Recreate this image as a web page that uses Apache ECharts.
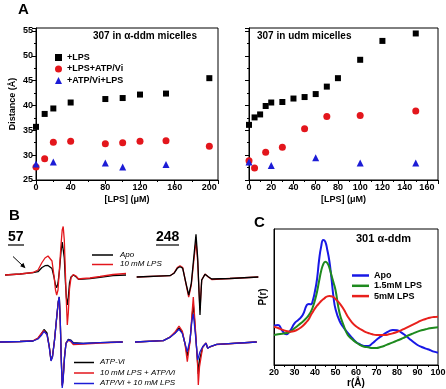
<!DOCTYPE html>
<html>
<head>
<meta charset="utf-8">
<script src="https://cdn.jsdelivr.net/npm/echarts@6/dist/echarts.min.js"></script>
<style>
html, body { margin: 0; padding: 0; background: #fff; }
#main { width: 446px; height: 389px; }
</style>
</head>
<body>
<div id="main"></div>
<script>
var FONT = "'Liberation Sans', Arial, sans-serif";

// A: 307 in alpha-ddm micelles, distance (A) vs [LPS] (uM)
var ddmLpsX = [0, 10, 20, 40, 80, 100, 120, 150, 200];
var ddmLpsY = [35.7, 38.3, 39.4, 40.6, 41.3, 41.5, 42.2, 42.4, 45.5];
var ddmAtpX = [0, 10, 20, 40, 80, 100, 120, 150, 200];
var ddmAtpY = [27.6, 29.3, 32.6, 32.8, 32.3, 32.5, 32.8, 32.9, 31.8];
var ddmRevX = [0, 20, 80, 100, 150];
var ddmRevY = [28.2, 28.6, 28.4, 27.6, 28.1];

// A: 307 in udm micelles
var udmLpsX = [0, 5, 10, 15, 20, 30, 40, 50, 60, 70, 80, 100, 120, 150];
var udmLpsY = [36.1, 37.6, 38.2, 39.9, 40.6, 40.7, 41.4, 41.7, 42.3, 43.8, 45.5, 49.2, 53.0, 54.5];
var udmAtpX = [0, 5, 15, 30, 50, 70, 100, 150];
var udmAtpY = [28.9, 27.4, 30.6, 31.6, 35.3, 37.8, 38.0, 38.9];
var udmRevX = [0, 20, 60, 100, 150];
var udmRevY = [28.6, 27.9, 29.5, 28.4, 28.4];

// B: EPR spectra, [field, signal]
var s57TopApo = [[5,0],[20,1],[33,2.3],[38,3.3],[42,7.5],[45,9.3],[48,9.5],[50,9.3],[52,6.5],[54,-2],[55.5,-10],[56.7,-12.7],[58,-8],[59.5,5],[61,23],[62.2,33],[63.2,34],[64.3,17],[65.3,-5],[66.3,-22],[67.3,-30],[68.3,-22],[69.5,-8],[71,-2],[73.3,0],[76,-1.7],[78.5,-4.3],[83,-4],[90,-3.5],[100,-2.3],[113,-0.7],[126,0]];
var s57TopLps = [[5,0],[20,1],[33,2.5],[38,5],[42,12.5],[45,17],[48,19],[50,18.5],[52,14],[54,-1],[55.5,-15],[56.7,-20],[58,-15],[59.5,7],[61,30],[62.2,45],[63.2,48.5],[64.3,35],[65.3,5],[66.3,-25],[67.3,-50],[68.3,-38],[69.5,-14],[71,-3],[73.3,0.5],[76,-1],[78.5,-4],[83,-3.5],[90,-3],[100,-1.5],[113,0.5],[126,1.5]];
var s57BotAtp = [[0,0],[20,0.5],[33,1],[38,3.7],[41.7,8.7],[44,12.5],[45.5,12.7],[47,9],[49.3,-4.7],[51,-18],[52.5,-14],[54.5,2],[56.7,25],[58.2,40],[59.3,45],[60.3,20],[61.2,-15],[62.2,-43],[63,-38],[64.5,-15],[66,-1.3],[68.3,2.7],[70.7,2],[73.3,-0.7],[83.3,-1.3],[100,-0.7],[122.7,0]];
var s57BotLpsAtp = [[0,0],[20,0.5],[33,1.3],[38,4],[41.7,9],[44,11.5],[45.5,11],[47,7],[49.3,-5],[51,-18.5],[52.5,-14.5],[54.5,1.5],[56.7,24],[58.2,39],[59.3,44],[60.3,19],[61.2,-15],[62.2,-44],[63,-39],[64.5,-15],[66,-1],[68.3,1.5],[70.7,0.5],[73.3,-2.5],[83.3,-2],[100,-1],[122.7,0]];
var s57BotAtpLps = [[0,0],[20,0.5],[33,1],[38,3],[41.7,7],[44,10.5],[45.5,10.7],[47,7.5],[49.3,-5.5],[51,-19],[52.5,-15],[54.5,1.5],[56.7,25],[58.2,40],[59.3,45],[60.3,20],[61.2,-15],[62.2,-46],[63,-40],[64.5,-16],[66,-1.5],[68.3,2],[70.7,1.5],[73.3,-1.3],[83.3,-1.5],[100,-0.7],[122.7,0]];
var s248TopApo = [[6.7,0],[40,1.3],[44,3.7],[47.3,8.7],[50,10.3],[52.7,8.7],[56,-6.3],[58.7,-18],[61.3,-6.3],[64,22],[66,42.7],[67.7,18.7],[69,-14.7],[70,-38],[70.8,-20],[71.7,-3],[75,2.7],[78.3,0.3],[81.7,-2],[100,-1.5],[128.3,0]];
var s248TopLps = [[6.7,0],[40,1.3],[44,4],[47.3,9.5],[50,11.3],[52.7,9.5],[56,-7],[58.7,-20],[61.3,-8],[64,18],[66,36],[67.7,15],[69,-14],[70,-33],[70.8,-18],[71.7,-3],[75,3],[78.3,0],[81.7,-2.5],[100,-1.5],[128.3,0]];
var s248BotAtp = [[5,0],[33.3,1.3],[40,4.8],[45,9],[49,14],[52.3,9.5],[55,-1.5],[57.3,-14],[60,1],[62,25],[63.3,38],[65.3,12],[67.7,-22],[68.3,-32],[69.5,-18],[72.7,-5],[76,-1.2],[77.7,-6.2],[80,-4.8],[86.7,-2.4],[126.7,0]];
var s248BotLpsAtp = [[5,0],[33.3,1.3],[40,5],[45,10],[49,16],[52.3,11],[55,-2],[57.3,-19.7],[60,0],[62,28],[63.3,45],[65.3,15],[67.7,-25],[68.3,-43],[69.5,-25],[72.7,-5],[76,-1],[77.7,-6],[80,-5],[86.7,-2.5],[126.7,0]];
var s248BotAtpLps = [[5,0],[33.3,1.3],[40,4.7],[45,8.7],[49,12.7],[52.3,8.7],[55,-1.3],[57.3,-9.7],[60,2],[62,22],[63.3,28],[65.3,8.7],[67.7,-18],[68.5,-16],[70,-9.7],[72.7,-4.7],[76,-1.3],[77.7,-6.3],[80,-4.7],[86.7,-2.3],[126.7,0]];

// C: 301 alpha-ddm, P(r) vs r (A)
var rValues = [20,22,24,26,28,30,32,34,36,37,38,39,40,41,42,43,44,45,46,47,48,49,50,52,54,56,58,60,62,64,66,68,70,72,74,76,78,80,82,84,86,88,90,92,94,96,98,100];
var prApo = [118,120,103,92,104,125,136,150,180,183,182,195,222,258,315,355,375,370,345,312,262,205,168,132,112,96,82,69,62,57,57,65,76,85,94,101,105,104,98,89,79,69,60,54,49,45,40,37];
var prLps15 = [90,92,94,96,100,110,120,130,142,150,160,175,195,220,252,282,302,310,306,292,270,248,225,155,118,90,78,68,60,55,53,51,51,54,58,63,68,73,78,84,90,95,100,104,107,110,112,113];
var prLps5 = [115,111,106,102,100,102,108,117,130,138,150,160,170,178,185,192,197,202,206,207,206,204,198,185,167,145,128,116,108,101,96,92,90,90,90,92,95,99,104,110,116,122,128,134,138,142,144,145];

var RED = '#e3161c', BLUE = '#1c1cd6', BLACK = '#000';

function pairs(xs, ys) {
    return xs.map(function (x, i) { return [x, ys[i]]; });
}

var lbl = { color: '#000', fontSize: 9, fontWeight: 'bold', fontFamily: FONT, margin: 3 };
var nameTxt = { color: '#000', fontSize: 9, fontWeight: 'bold', fontFamily: FONT };
var blackLine = { show: true, lineStyle: { color: '#000', width: 1 } };
var tick = { show: true, length: 4, lineStyle: { color: '#000' } };
var minor = { show: true, splitNumber: 2, length: 2, lineStyle: { color: '#000' } };

function every(n) {
    return function (v) { return v % n === 0 ? v : ''; };
}

function hiddenAxis(i, min, max) {
    return { type: 'value', gridIndex: i, min: min, max: max, show: false };
}

function spectrum(name, data, idx, color) {
    return {
        name: name, type: 'line', xAxisIndex: idx, yAxisIndex: idx, data: data,
        showSymbol: false, lineStyle: { color: color, width: 1.3 }, itemStyle: { color: color },
        silent: true
    };
}

function scatter(name, data, idx, symbol, size, color) {
    return {
        name: name, type: 'scatter', xAxisIndex: idx, yAxisIndex: idx, data: data,
        symbol: symbol, symbolSize: size, itemStyle: { color: color, opacity: 1 }
    };
}

function prLine(name, vals, color) {
    return {
        name: name, type: 'line', xAxisIndex: 2, yAxisIndex: 2, data: pairs(rValues, vals),
        showSymbol: false, smooth: true, lineStyle: { color: color, width: 2 }, itemStyle: { color: color }
    };
}

function grid(l, t, w, h, box) {
    var g = { left: l, top: t, width: w, height: h, outerBoundsMode: 'none', containLabel: false };
    if (box) {
        g.show = true;
        g.borderColor = '#000';
        g.borderWidth = 1;
    }
    return g;
}

var myChart = echarts.init(document.getElementById('main'), null, { renderer: 'canvas' });

var option = {
    animation: false,
    backgroundColor: '#fff',
    textStyle: { fontFamily: FONT },
    title: [
        { text: '307 in α-ddm micelles', left: 93, top: 31, padding: 0,
          textStyle: { fontSize: 10, fontWeight: 'bold', color: '#000', fontFamily: FONT } },
        { text: '307 in udm micelles', left: 257, top: 31, padding: 0,
          textStyle: { fontSize: 10, fontWeight: 'bold', color: '#000', fontFamily: FONT } },
        { text: '301 α-ddm', left: 356, top: 233, padding: 0,
          textStyle: { fontSize: 11, fontWeight: 'bold', color: '#000', fontFamily: FONT } }
    ],
    legend: [
        { data: ['+LPS', '+LPS+ATP/Vi', '+ATP/Vi+LPS'], orient: 'vertical', left: 50, top: 48,
          itemWidth: 7, itemHeight: 7, itemGap: 2.5,
          textStyle: { fontSize: 9, fontWeight: 'bold', color: '#000', fontFamily: FONT } },
        { data: ['Apo', '1.5mM LPS', '5mM LPS'], orient: 'vertical', left: 347, top: 266,
          icon: 'rect', itemWidth: 17, itemHeight: 2.5, itemGap: 1.3,
          textStyle: { fontSize: 9, fontWeight: 'bold', color: '#000', fontFamily: FONT } }
    ],
    grid: [
        grid(36, 28, 182, 152, true),
        grid(249, 28, 189, 152, true),
        grid(274, 229, 164, 136, true),
        grid(0, 205, 130, 140),
        grid(0, 272, 130, 140),
        grid(130, 207, 130, 140),
        grid(130, 272, 130, 140)
    ],
    xAxis: [
        { type: 'value', gridIndex: 0, min: 0, max: 210, interval: 40, axisLine: blackLine,
          axisTick: tick, minorTick: minor, splitLine: { show: false },
          axisLabel: Object.assign({ formatter: every(40) }, lbl),
          name: '[LPS] (μM)', nameLocation: 'middle', nameGap: 15, nameTextStyle: nameTxt },
        { type: 'value', gridIndex: 1, min: 0, max: 170, interval: 20, axisLine: blackLine,
          axisTick: tick, minorTick: minor, splitLine: { show: false },
          axisLabel: Object.assign({ formatter: every(20) }, lbl),
          name: '[LPS] (μM)', nameLocation: 'middle', nameGap: 15, nameTextStyle: nameTxt },
        { type: 'value', gridIndex: 2, min: 20, max: 100, interval: 10, axisLine: blackLine,
          axisTick: tick, minorTick: minor, splitLine: { show: false },
          axisLabel: lbl,
          name: 'r(Å)', nameLocation: 'middle', nameGap: 13,
          nameTextStyle: { color: '#000', fontSize: 10, fontWeight: 'bold', fontFamily: FONT } },
        hiddenAxis(3, 0, 130), hiddenAxis(4, 0, 130), hiddenAxis(5, 0, 130), hiddenAxis(6, 0, 130)
    ],
    yAxis: [
        { type: 'value', gridIndex: 0, min: 25, max: 55.6, interval: 5, axisLine: blackLine,
          axisTick: tick, minorTick: minor, splitLine: { show: false },
          axisLabel: Object.assign({ formatter: every(5) }, lbl),
          name: 'Distance (Å)', nameLocation: 'middle', nameGap: 19, nameTextStyle: nameTxt },
        { type: 'value', gridIndex: 1, min: 25, max: 55.6, interval: 5, axisLine: blackLine,
          axisTick: tick, minorTick: minor, splitLine: { show: false },
          axisLabel: { show: false } },
        { type: 'value', gridIndex: 2, min: 0, max: 408, axisLine: blackLine,
          axisTick: { show: false }, splitLine: { show: false }, axisLabel: { show: false },
          name: 'P(r)', nameLocation: 'middle', nameGap: 6,
          nameTextStyle: { color: '#000', fontSize: 10, fontWeight: 'bold', fontFamily: FONT } },
        hiddenAxis(3, -70, 70), hiddenAxis(4, -70, 70), hiddenAxis(5, -70, 70), hiddenAxis(6, -70, 70)
    ],
    series: [
        scatter('+LPS', pairs(ddmLpsX, ddmLpsY), 0, 'rect', 6, BLACK),
        scatter('+LPS+ATP/Vi', pairs(ddmAtpX, ddmAtpY), 0, 'circle', 7, RED),
        scatter('+ATP/Vi+LPS', pairs(ddmRevX, ddmRevY), 0, 'triangle', 7, BLUE),
        scatter('+LPS', pairs(udmLpsX, udmLpsY), 1, 'rect', 6, BLACK),
        scatter('+LPS+ATP/Vi', pairs(udmAtpX, udmAtpY), 1, 'circle', 7, RED),
        scatter('+ATP/Vi+LPS', pairs(udmRevX, udmRevY), 1, 'triangle', 7, BLUE),

        prLine('Apo', prApo, '#1818e6'),
        prLine('1.5mM LPS', prLps15, '#1e8a1e'),
        prLine('5mM LPS', prLps5, '#e8201c'),

        spectrum('57 Apo', s57TopApo, 3, BLACK),
        spectrum('57 10 mM LPS', s57TopLps, 3, RED),
        spectrum('57 ATP-Vi', s57BotAtp, 4, BLACK),
        spectrum('57 LPS + ATP/Vi', s57BotLpsAtp, 4, RED),
        spectrum('57 ATP/Vi + LPS', s57BotAtpLps, 4, BLUE),
        spectrum('248 10 mM LPS', s248TopLps, 5, RED),
        spectrum('248 Apo', s248TopApo, 5, BLACK),
        spectrum('248 ATP-Vi', s248BotAtp, 6, BLACK),
        spectrum('248 LPS + ATP/Vi', s248BotLpsAtp, 6, RED),
        spectrum('248 ATP/Vi + LPS', s248BotAtpLps, 6, BLUE)
    ],
    graphic: [
        { type: 'text', style: { text: 'A', x: 18, y: 2, font: 'bold 15px ' + FONT, fill: '#000' } },
        { type: 'text', style: { text: 'B', x: 9, y: 208, font: 'bold 15px ' + FONT, fill: '#000' } },
        { type: 'text', style: { text: 'C', x: 254, y: 215, font: 'bold 15px ' + FONT, fill: '#000' } },
        { type: 'text', style: { text: '57', x: 8, y: 230, font: 'bold 14px ' + FONT, fill: '#000' } },
        { type: 'line', shape: { x1: 8, y1: 245, x2: 24, y2: 245 }, style: { stroke: '#000', lineWidth: 1.2 } },
        { type: 'text', style: { text: '248', x: 156, y: 230, font: 'bold 14px ' + FONT, fill: '#000' } },
        { type: 'line', shape: { x1: 156, y1: 245, x2: 179, y2: 245 }, style: { stroke: '#000', lineWidth: 1.2 } },
        { type: 'line', shape: { x1: 13, y1: 256.5, x2: 23, y2: 266 }, style: { stroke: '#000', lineWidth: 1 } },
        { type: 'polygon', shape: { points: [[25.5, 268.3], [20.2, 266.2], [23.4, 262.8]] }, style: { fill: '#000' } },

        { type: 'line', shape: { x1: 92, y1: 255, x2: 113, y2: 255 }, style: { stroke: BLACK, lineWidth: 1.5 } },
        { type: 'line', shape: { x1: 92, y1: 264.5, x2: 113, y2: 264.5 }, style: { stroke: RED, lineWidth: 1.5 } },
        { type: 'text', style: { text: 'Apo', x: 120, y: 250.5, font: 'italic 8px ' + FONT, fill: '#000' } },
        { type: 'text', style: { text: '10 mM LPS', x: 120, y: 260, font: 'italic 8px ' + FONT, fill: '#000' } },

        { type: 'line', shape: { x1: 74, y1: 362.5, x2: 94, y2: 362.5 }, style: { stroke: BLACK, lineWidth: 1.5 } },
        { type: 'line', shape: { x1: 74, y1: 373, x2: 94, y2: 373 }, style: { stroke: RED, lineWidth: 1.5 } },
        { type: 'line', shape: { x1: 74, y1: 383.5, x2: 94, y2: 383.5 }, style: { stroke: BLUE, lineWidth: 1.5 } },
        { type: 'text', style: { text: 'ATP-Vi', x: 100, y: 358, font: 'italic 8px ' + FONT, fill: '#000' } },
        { type: 'text', style: { text: '10 mM LPS + ATP/Vi', x: 100, y: 368.5, font: 'italic 8px ' + FONT, fill: '#000' } },
        { type: 'text', style: { text: 'ATP/Vi + 10 mM LPS', x: 100, y: 379, font: 'italic 8px ' + FONT, fill: '#000' } }
    ]
};
myChart.setOption(option);
</script>
</body>
</html>
